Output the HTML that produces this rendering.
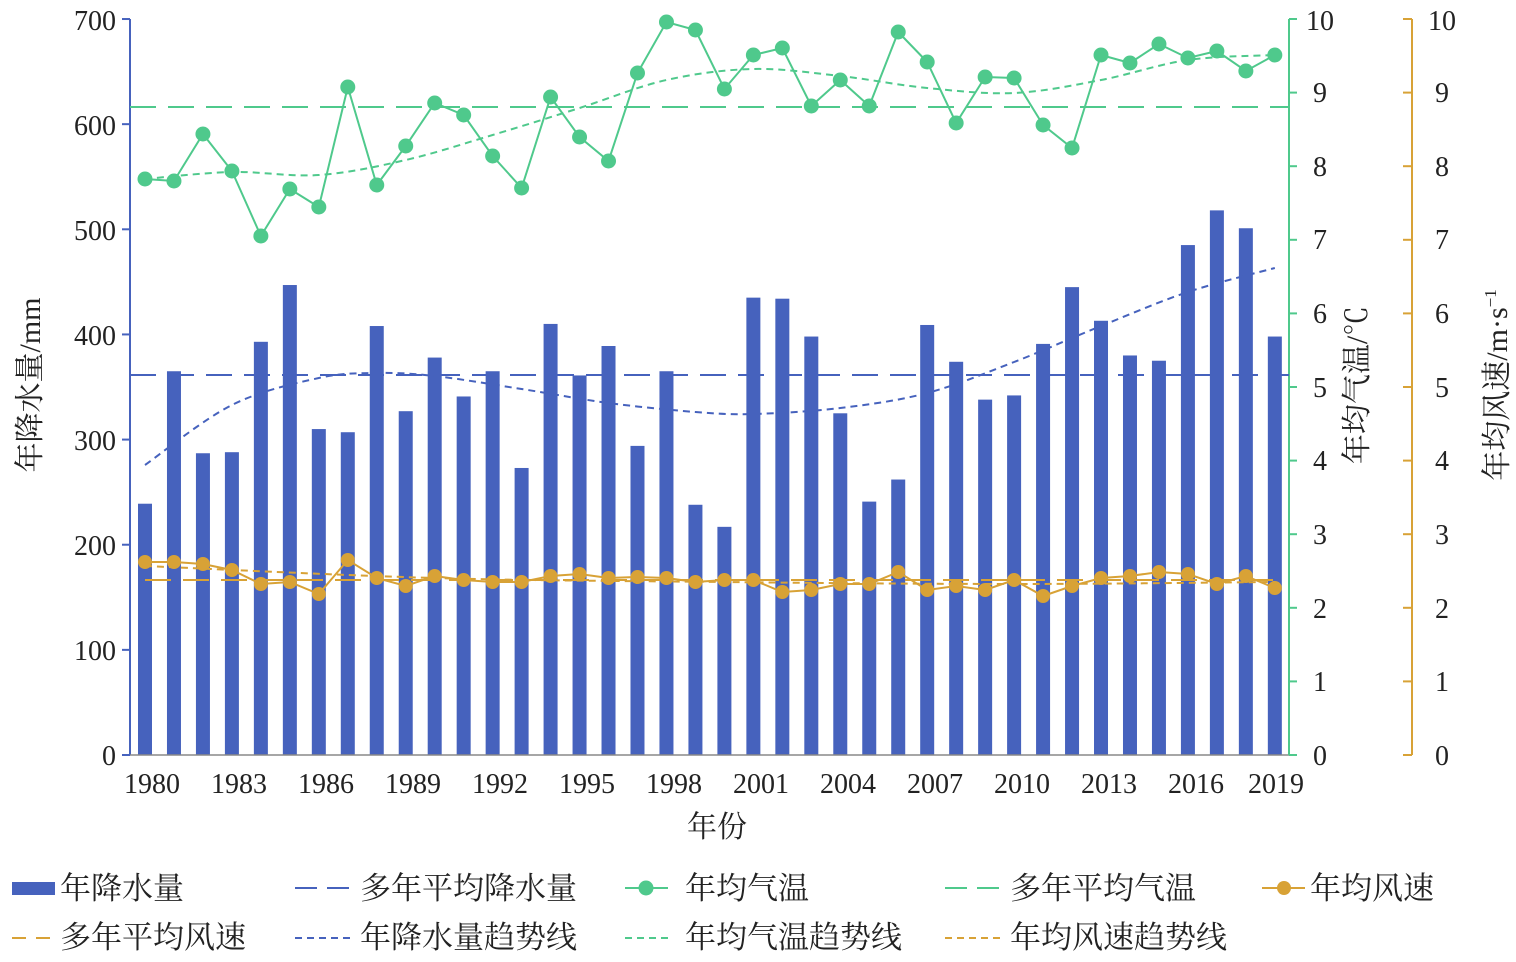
<!DOCTYPE html>
<html><head><meta charset="utf-8"><style>
body{margin:0;background:#fff}
svg text{font-family:"Liberation Serif","Noto Serif CJK SC",serif;fill:#222}
</style></head><body>
<svg id="s" width="1516" height="957" viewBox="0 0 1516 957" xmlns="http://www.w3.org/2000/svg">
<g id="g"></g>
<g font-size="28" text-anchor="end">
<text x="116" y="765">0</text><text x="116" y="660">100</text><text x="116" y="555">200</text><text x="116" y="450">300</text><text x="116" y="345">400</text><text x="116" y="240">500</text><text x="116" y="135">600</text><text x="116" y="30">700</text>
</g>
<g font-size="28" text-anchor="middle">
<text x="1320" y="765">0</text><text x="1320" y="691">1</text><text x="1320" y="618">2</text><text x="1320" y="544">3</text><text x="1320" y="470">4</text><text x="1320" y="397">5</text><text x="1320" y="323">6</text><text x="1320" y="249">7</text><text x="1320" y="176">8</text><text x="1320" y="102">9</text><text x="1320" y="30">10</text>
<text x="1442" y="765">0</text><text x="1442" y="691">1</text><text x="1442" y="618">2</text><text x="1442" y="544">3</text><text x="1442" y="470">4</text><text x="1442" y="397">5</text><text x="1442" y="323">6</text><text x="1442" y="249">7</text><text x="1442" y="176">8</text><text x="1442" y="102">9</text><text x="1442" y="30">10</text>
<text x="152" y="793">1980</text><text x="239" y="793">1983</text><text x="326" y="793">1986</text><text x="413" y="793">1989</text><text x="500" y="793">1992</text><text x="587" y="793">1995</text><text x="674" y="793">1998</text><text x="761" y="793">2001</text><text x="848" y="793">2004</text><text x="935" y="793">2007</text><text x="1022" y="793">2010</text><text x="1109" y="793">2013</text><text x="1196" y="793">2016</text><text x="1276" y="793">2019</text>
<text x="717" y="837" font-size="30">年份</text>
<text transform="translate(40,385) rotate(-90)" font-size="30">年降水量/mm</text>
<text transform="translate(1367,385) rotate(-90)" font-size="30">年均气温/℃</text>
<text transform="translate(1507,385) rotate(-90)" font-size="30">年均风速/m·s<tspan font-size="17" dy="-11">−1</tspan></text>
</g>
<g font-size="31">
<text x="60" y="899">年降水量</text><text x="360" y="899">多年平均降水量</text><text x="685" y="899">年均气温</text><text x="1010" y="899">多年平均气温</text><text x="1310" y="899">年均风速</text>
<text x="60" y="948">多年平均风速</text><text x="360" y="948">年降水量趋势线</text><text x="685" y="948">年均气温趋势线</text><text x="1010" y="948">年均风速趋势线</text>
</g>
</svg>
<script>
const B='#4662bd',G='#4fc98c',O='#d8a236';
const g=document.getElementById('g');let h='';
const X=i=>145+i*28.97, PY=v=>755-v*1.0514;
const P=[239,365,287,288,393,447,310,307,408,327,378,341,365,273,410,361,389,294,365,238,217,435,434,398,325,241,262,409,374,338,342,391,445,413,380,375,485,518,501,398];
const T=[179,181,134,171,236,189,207,87,185,146,103,115,156,188,97,137,161,73,22,30,89,55,48,106,80,106,32,62,123,77,78,125,148,55,63,44,58,51,71,55];
const W=[562,562,564,570,584,582,594,560,578,586,576,580,582,582,576,574,578,577,578,582,580,580,592,590,584,584,572,590,586,590,580,596,586,578,576,572,574,584,576,588];
P.forEach((v,i)=>h+=`<rect x="${X(i)-7}" y="${PY(v)}" width="14" height="${755-PY(v)}" fill="${B}"/>`);
h+=`<line x1="130" y1="19" x2="130" y2="755" stroke="${B}" stroke-width="2"/><line x1="130" y1="755" x2="1289" y2="755" stroke="#888" stroke-width="1.5"/>`;
h+=`<line x1="1289" y1="19" x2="1289" y2="755" stroke="${G}" stroke-width="2"/><line x1="1412" y1="19" x2="1412" y2="755" stroke="${O}" stroke-width="2"/>`;
for(let k=0;k<=7;k++){let y=755-k*105.14;h+=`<line x1="122" y1="${y}" x2="130" y2="${y}" stroke="${B}" stroke-width="2"/>`}
for(let k=0;k<=10;k++){let y=755-k*73.6;h+=`<line x1="1289" y1="${y}" x2="1297" y2="${y}" stroke="${G}" stroke-width="2"/><line x1="1403" y1="${y}" x2="1412" y2="${y}" stroke="${O}" stroke-width="2"/>`}
h+=`<line x1="130" y1="375" x2="1289" y2="375" stroke="${B}" stroke-width="2" stroke-dasharray="26,12"/>`;
h+=`<line x1="130" y1="107" x2="1289" y2="107" stroke="${G}" stroke-width="2" stroke-dasharray="26,12"/>`;
h+=`<line x1="145" y1="580" x2="1276" y2="580" stroke="${O}" stroke-width="2" stroke-dasharray="26,12"/>`;
const sm=(pts)=>{let d='M'+pts[0].join(',');for(let i=1;i<pts.length;i++){let p0=pts[i-2]||pts[i-1],p1=pts[i-1],p2=pts[i],p3=pts[i+1]||pts[i];d+=` C${p1[0]+(p2[0]-p0[0])/6},${p1[1]+(p2[1]-p0[1])/6} ${p2[0]-(p3[0]-p1[0])/6},${p2[1]-(p3[1]-p1[1])/6} ${p2[0]},${p2[1]}`}return d};
const yrs=[0,3,6,8,10,13,16,19,21,24,27,30,33,36,39];
const pt=[465,405,378,373,376,389,403,412,414,408,393,362,326,292,268];
h+=`<path d="${sm(yrs.map((k,i)=>[X(k),pt[i]]))}" fill="none" stroke="${B}" stroke-width="2" stroke-dasharray="7,5"/>`;
const ty=[0,3,6,9,12,15,18,21,24,27,30,33,36,39],tt=[179,172,175,160,135,108,80,69,76,88,93,80,60,55];
h+=`<path d="${sm(ty.map((k,i)=>[X(k),tt[i]]))}" fill="none" stroke="${G}" stroke-width="2" stroke-dasharray="7,5"/>`;
h+=`<path d="${sm([[X(0),566],[X(10),578],[X(20),582],[X(30),584],[X(39),582]])}" fill="none" stroke="${O}" stroke-width="2" stroke-dasharray="7,5"/>`;
h+=`<polyline points="${T.map((y,i)=>X(i)+','+y).join(' ')}" fill="none" stroke="${G}" stroke-width="2"/>`;
T.forEach((y,i)=>h+=`<circle cx="${X(i)}" cy="${y}" r="7.5" fill="${G}"/>`);
h+=`<polyline points="${W.map((y,i)=>X(i)+','+y).join(' ')}" fill="none" stroke="${O}" stroke-width="2"/>`;
W.forEach((y,i)=>h+=`<circle cx="${X(i)}" cy="${y}" r="7" fill="${O}"/>`);
h+=`<rect x="12" y="882" width="43" height="13" fill="${B}"/>`;
h+=`<line x1="295" y1="888" x2="355" y2="888" stroke="${B}" stroke-width="2" stroke-dasharray="22,10"/>`;
h+=`<line x1="625" y1="888" x2="668" y2="888" stroke="${G}" stroke-width="2"/><circle cx="646" cy="888" r="7.5" fill="${G}"/>`;
h+=`<line x1="945" y1="888" x2="1000" y2="888" stroke="${G}" stroke-width="2" stroke-dasharray="22,10"/>`;
h+=`<line x1="1262" y1="888" x2="1305" y2="888" stroke="${O}" stroke-width="2"/><circle cx="1284" cy="888" r="7" fill="${O}"/>`;
h+=`<line x1="12" y1="938" x2="55" y2="938" stroke="${O}" stroke-width="2" stroke-dasharray="14,10"/>`;
h+=`<line x1="295" y1="938" x2="355" y2="938" stroke="${B}" stroke-width="2" stroke-dasharray="7,5"/>`;
h+=`<line x1="625" y1="938" x2="670" y2="938" stroke="${G}" stroke-width="2" stroke-dasharray="7,5"/>`;
h+=`<line x1="945" y1="938" x2="1000" y2="938" stroke="${O}" stroke-width="2" stroke-dasharray="7,5"/>`;
g.innerHTML=h;
</script>
</body></html>
